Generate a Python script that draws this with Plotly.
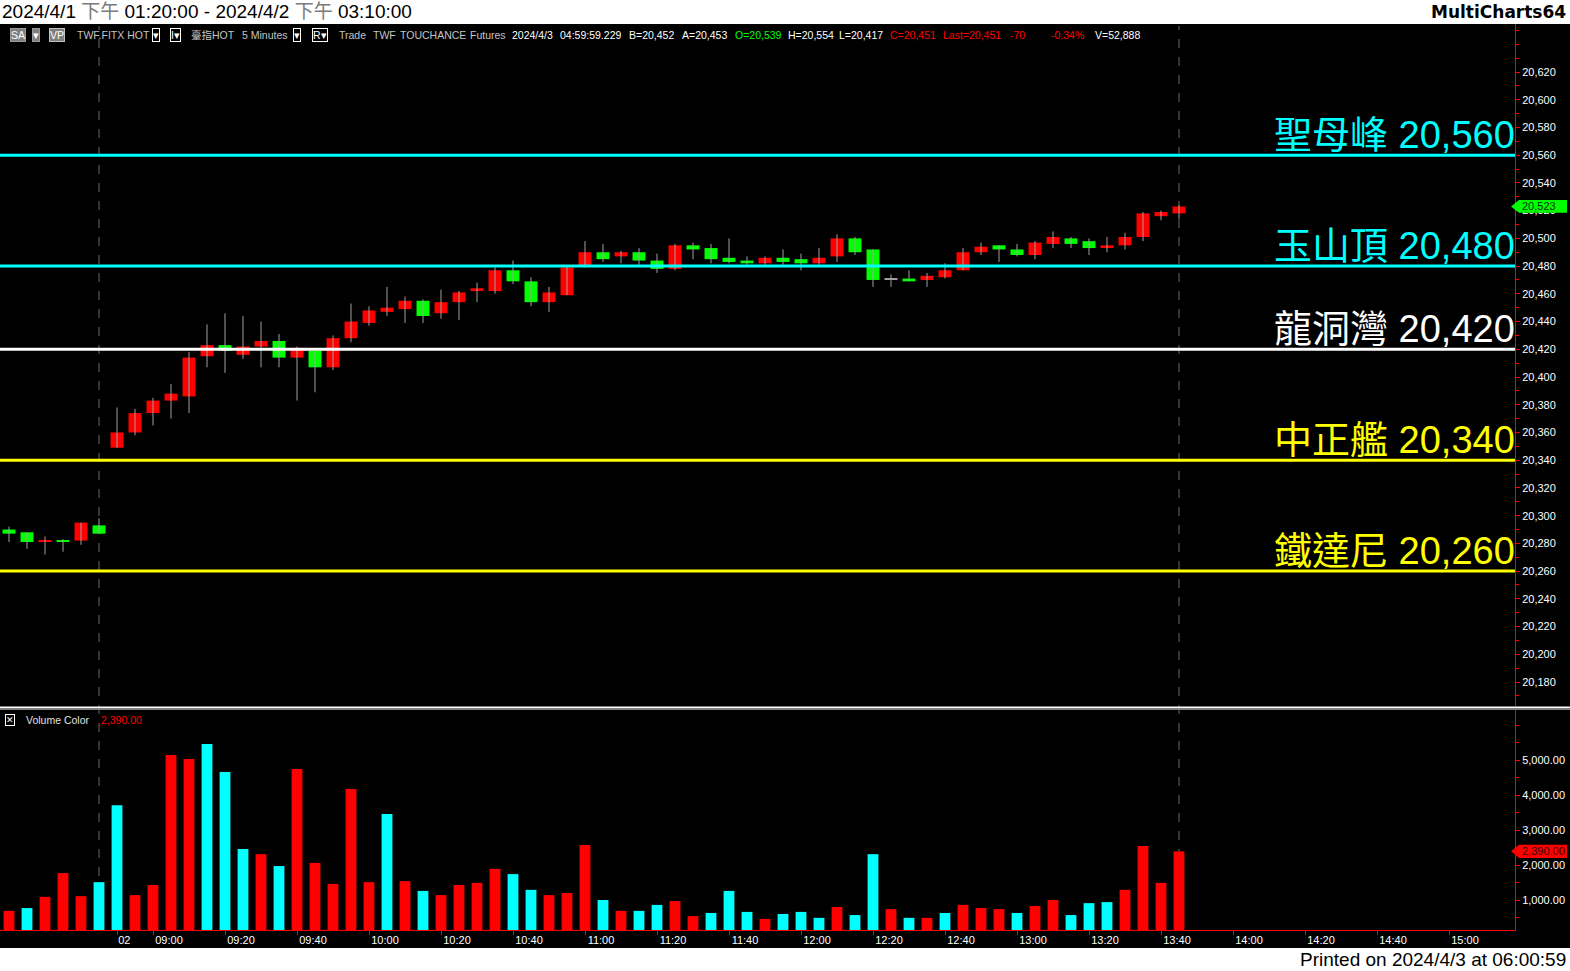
import plotly.graph_objects as go

W, H = 1570, 971

# ---------------- data ----------------
opens = [20290, 20288, 20281, 20282, 20282, 20293,
         20349, 20360, 20374, 20383, 20386, 20415, 20423, 20416, 20422, 20426,
         20414, 20419, 20407, 20428, 20439, 20447, 20449, 20455, 20446, 20454,
         20462, 20462, 20477, 20469, 20454, 20459, 20480, 20490, 20487, 20490,
         20484, 20478, 20495, 20493, 20486, 20484, 20482, 20486, 20485, 20482,
         20487, 20500, 20492, 20470, 20471, 20470, 20472, 20477, 20490, 20495,
         20492, 20488, 20496, 20500, 20498, 20493, 20495, 20501, 20516, 20518]
highs = [20292, 20288, 20285, 20283, 20295, 20298,
         20378, 20377, 20385, 20395, 20418, 20438, 20446, 20444, 20440, 20431,
         20422, 20420, 20430, 20453, 20451, 20465, 20458, 20456, 20463, 20462,
         20468, 20479, 20484, 20472, 20465, 20480, 20498, 20496, 20491, 20493,
         20489, 20496, 20497, 20496, 20500, 20487, 20487, 20492, 20489, 20493,
         20503, 20501, 20492, 20474, 20477, 20475, 20482, 20493, 20497, 20495,
         20496, 20498, 20505, 20501, 20500, 20501, 20504, 20519, 20520, 20524]
lows = [20281, 20276, 20272, 20274, 20279, 20287,
        20349, 20358, 20365, 20370, 20374, 20407, 20403, 20413, 20407, 20407,
        20383, 20389, 20405, 20425, 20437, 20444, 20439, 20439, 20442, 20441,
        20454, 20460, 20467, 20451, 20447, 20459, 20479, 20483, 20482, 20481,
        20475, 20477, 20485, 20482, 20482, 20481, 20481, 20481, 20477, 20481,
        20483, 20488, 20465, 20465, 20469, 20465, 20471, 20477, 20488, 20483,
        20487, 20485, 20493, 20493, 20488, 20490, 20492, 20498, 20513, 20514]
closes = [20287, 20281, 20282, 20281, 20295, 20287,
          20360, 20374, 20383, 20388, 20414, 20423, 20419, 20422, 20426, 20414,
          20421, 20407, 20428, 20440, 20448, 20450, 20455, 20444, 20454, 20461,
          20464, 20477, 20469, 20454, 20461, 20479, 20490, 20485, 20490, 20484,
          20478, 20495, 20492, 20485, 20483, 20482, 20486, 20483, 20482, 20486,
          20500, 20490, 20470, 20470, 20469, 20473, 20477, 20490, 20494, 20492,
          20488, 20497, 20501, 20496, 20493, 20495, 20501, 20518, 20519, 20523]
volumes = [690, 770, 1090, 1770, 1110, 1510, 3710, 1140, 1430, 5140,
           5030, 5460, 4660, 2460, 2310, 1970, 4740, 2060, 1460, 4170,
           1510, 3460, 1540, 1260, 1140, 1430, 1490, 1890, 1740, 1290,
           1140, 1200, 2570, 1000, 690, 690, 860, 970, 540, 630,
           1260, 660, 460, 600, 660, 490, 800, 570, 2310, 740,
           490, 490, 630, 860, 770, 740, 630, 830, 1000, 570,
           910, 940, 1290, 2540, 1490, 2390]
volume_dir = list("RCRRRCCRRR" "RCCCRCRRRR" "RCRCRRRRCC" "RRRCRCCRRC"
                  "CCRCCCRCCR" "CRCRRRCRRC" "CCRRRR")

x_tick_index = [6, 8, 12, 16, 20, 24, 28, 32, 36, 40, 44, 48, 52, 56, 60, 64, 68, 72, 76, 80]
x_tick_text = ["02", "09:00", "09:20", "09:40", "10:00", "10:20", "10:40", "11:00",
               "11:20", "11:40", "12:00", "12:20", "12:40", "13:00", "13:20", "13:40",
               "14:00", "14:20", "14:40", "15:00"]

price_ticks = list(range(20180, 20621, 20))
volume_ticks = [1000, 2000, 3000, 4000, 5000]

level_values = [20560, 20480, 20420, 20340, 20260]
level_names = ["聖母峰", "玉山頂", "龍洞灣", "中正艦", "鐵達尼"]
level_colors = ["#00FFFF", "#00FFFF", "#FFFFFF", "#FFFF00", "#FFFF00"]

last_price = 20523
last_volume = 2390
session_break_index = 5

# ---------------- helpers ----------------
def px(xp):
    return xp / W


def py(yp):
    return 1 - yp / H


X_RIGHT = 1515
x_range = [-0.5, (X_RIGHT - 9) / 18.0]
n = len(opens)
idx = list(range(n))

PRICE_TOP, PRICE_BOT = 24, 706
VOL_TOP, VOL_BOT = 710, 930
price_range = [20620 - (PRICE_BOT - 72) * 0.72129, 20620 + (72 - PRICE_TOP) * 0.72129]
vol_range = [(935 - VOL_BOT) / 0.035, (935 - VOL_TOP) / 0.035]

fig = go.Figure()

# wicks
wx, wy = [], []
for i, (h, l) in enumerate(zip(highs, lows)):
    wx += [i, i, None]
    wy += [l, h, None]
fig.add_trace(go.Scatter(x=wx, y=wy, mode="lines", line=dict(color="#A0A0A0", width=1),
                         xaxis="x", yaxis="y", hoverinfo="skip", showlegend=False))

# bodies
bases = [min(o, c) for o, c in zip(opens, closes)]
heights = [max(abs(c - o), 0.8) for o, c in zip(opens, closes)]
body_colors = ["#FF0000" if c > o else ("#00FF00" if c < o else "#A0A0A0")
               for o, c in zip(opens, closes)]
fig.add_trace(go.Bar(x=idx, y=heights, base=bases, width=0.72,
                     marker=dict(color=body_colors, line=dict(width=0)),
                     xaxis="x", yaxis="y", hoverinfo="skip", showlegend=False))

# volume
vcolors = ["#FF0000" if d == "R" else "#00FFFF" for d in volume_dir]
fig.add_trace(go.Bar(x=idx, y=volumes, width=0.6,
                     marker=dict(color=vcolors, line=dict(width=0)),
                     xaxis="x2", yaxis="y2", hoverinfo="skip", showlegend=False))

shapes = []
annotations = []

# header / footer bands
shapes.append(dict(type="rect", xref="paper", yref="paper", x0=0, x1=1, y0=py(24), y1=1,
                   fillcolor="white", line=dict(width=0), layer="above"))
shapes.append(dict(type="rect", xref="paper", yref="paper", x0=0, x1=1, y0=0, y1=py(948),
                   fillcolor="white", line=dict(width=0), layer="above"))

# pane separator
shapes.append(dict(type="line", xref="paper", yref="paper", x0=0, x1=1, y0=py(707.5), y1=py(707.5),
                   line=dict(color="#FFFFFF", width=2)))
shapes.append(dict(type="line", xref="paper", yref="paper", x0=0, x1=1, y0=py(709.5), y1=py(709.5),
                   line=dict(color="#808080", width=1)))

# vertical dashed lines
for xi in [session_break_index, n - 1]:
    shapes.append(dict(type="line", xref="x", yref="paper", x0=xi, x1=xi, y0=py(VOL_BOT), y1=py(26),
                       line=dict(color="#6A6A6A", width=1, dash="dash"), layer="below"))

# level lines and labels
for v, name, col in zip(level_values, level_names, level_colors):
    shapes.append(dict(type="line", xref="x", yref="y", x0=x_range[0], x1=x_range[1], y0=v, y1=v,
                       line=dict(color=col, width=3)))
    annotations.append(dict(xref="paper", yref="y", x=px(1517), y=v, xanchor="right", yanchor="bottom",
                            text=f"{name} {v:,}", showarrow=False, yshift=-3,
                            font=dict(size=38, color=col,
                                      family="Liberation Sans, Noto Sans CJK TC, sans-serif")))

# last price tag
ph = 4.6
shapes.append(dict(type="path", xref="paper", yref="y",
                   path=f"M {px(1511)} {last_price} L {px(1519)} {last_price + ph} L {px(1567)} {last_price + ph} "
                        f"L {px(1567)} {last_price - ph} L {px(1519)} {last_price - ph} Z",
                   fillcolor="#00FF00", line=dict(width=0), layer="above"))
annotations.append(dict(xref="paper", yref="y", x=px(1520), y=last_price, xanchor="left", yanchor="middle",
                        text=f"{last_price:,}", showarrow=False,
                        font=dict(size=11, color="#003300", family="Liberation Sans")))
vh = 190
shapes.append(dict(type="path", xref="paper", yref="y2",
                   path=f"M {px(1511)} {last_volume} L {px(1519)} {last_volume + vh} L {px(1567)} {last_volume + vh} "
                        f"L {px(1567)} {last_volume - vh} L {px(1519)} {last_volume - vh} Z",
                   fillcolor="#FF0000", line=dict(width=0), layer="above"))
annotations.append(dict(xref="paper", yref="y2", x=px(1520), y=last_volume, xanchor="left", yanchor="middle",
                        text=f"{last_volume:,.2f}", showarrow=False,
                        font=dict(size=11, color="#3A0000", family="Liberation Sans")))

# title bar texts
annotations.append(dict(xref="paper", yref="paper", x=0, y=py(12), xanchor="left", yanchor="middle",
                        text="2024/4/1 <span style='color:#7a7a7a'>下午</span> 01:20:00 - 2024/4/2 "
                             "<span style='color:#7a7a7a'>下午</span> 03:10:00",
                        showarrow=False,
                        font=dict(size=19, color="black",
                                  family="Liberation Sans, Noto Sans CJK TC, sans-serif")))
annotations.append(dict(xref="paper", yref="paper", x=px(1568), y=py(12), xanchor="right", yanchor="middle",
                        text="<b>MultiCharts64</b>", showarrow=False,
                        font=dict(size=17, color="black", family="DejaVu Sans")))
annotations.append(dict(xref="paper", yref="paper", x=px(1568), y=py(959.5), xanchor="right", yanchor="middle",
                        text="Printed on 2024/4/3 at 06:00:59", showarrow=False,
                        font=dict(size=19, color="black", family="Liberation Sans")))

# info bar
INFO_Y = py(35)
info_font = "Liberation Sans, Noto Sans CJK TC, sans-serif"


def info(xp, text, color="#FFFFFF", bg=None, border=None):
    a = dict(xref="paper", yref="paper", x=px(xp), y=INFO_Y, xanchor="left", yanchor="middle",
             text=text, showarrow=False, font=dict(size=10.5, color=color, family=info_font))
    if bg:
        a["bgcolor"] = bg
    if border:
        a["bordercolor"] = border
        a["borderwidth"] = 1
        a["borderpad"] = 0
    annotations.append(a)


info(10, "SA", "#FFFFFF", bg="#7F7F7F", border="#9A9A9A")
info(32, "▾", "#FFFFFF", bg="#7F7F7F", border="#9A9A9A")
info(49, "VP", "#FFFFFF", bg="#7F7F7F", border="#C0C0C0")
info(75, "TWF.FITX HOT", "#C4C4C4")
info(152, "▾", "#FFFFFF", bg="#000000", border="#FFFFFF")
info(170, "I▾", "#FFFFFF", bg="#000000", border="#FFFFFF")
info(189, "臺指HOT", "#C4C4C4")
info(240, "5 Minutes", "#C4C4C4")
info(293, "▾", "#FFFFFF", bg="#000000", border="#FFFFFF")
info(312, "R▾", "#FFFFFF", bg="#000000", border="#FFFFFF")
info(337, "Trade", "#C4C4C4")
info(371, "TWF", "#C4C4C4")
info(398, "TOUCHANCE", "#C4C4C4")
info(468, "Futures", "#C4C4C4")
info(510, "2024/4/3", "#FFFFFF")
info(558, "04:59:59.229", "#FFFFFF")
info(627, "B=20,452", "#FFFFFF")
info(680, "A=20,453", "#FFFFFF")
info(733, "O=20,539", "#00FF00")
info(786, "H=20,554", "#FFFFFF")
info(837, "L=20,417", "#FFFFFF")
info(888, "C=20,451", "#FF0000")
info(941, "Last=20,451", "#FF0000")
info(1008, "-70", "#FF0000")
info(1049, "-0.34%", "#FF0000")
info(1093, "V=52,888", "#FFFFFF")

# volume pane header
annotations.append(dict(xref="paper", yref="paper", x=px(5), y=py(719.5), xanchor="left", yanchor="middle",
                        text="✕", showarrow=False, bordercolor="#FFFFFF", borderwidth=1, borderpad=0,
                        font=dict(size=9, color="#FFFFFF", family="DejaVu Sans")))
annotations.append(dict(xref="paper", yref="paper", x=px(24), y=py(719.5), xanchor="left", yanchor="middle",
                        text="Volume Color", showarrow=False,
                        font=dict(size=10.5, color="#E0E0E0", family="Liberation Sans")))
annotations.append(dict(xref="paper", yref="paper", x=px(99), y=py(719.5), xanchor="left", yanchor="middle",
                        text=f"{last_volume:,.2f}", showarrow=False,
                        font=dict(size=10.5, color="#FF0000", family="Liberation Sans")))

# x tick label positions: labels start just right of their tick
x_label_pos = [i + (1.5 + 2.9 * len(t)) / 18.0 for i, t in zip(x_tick_index, x_tick_text)]

tickfont = dict(size=11, color="#FFFFFF", family="Liberation Sans")
xdom = [0, px(X_RIGHT)]

fig.update_layout(
    width=W, height=H, autosize=False,
    margin=dict(l=0, r=0, t=0, b=0, pad=0),
    paper_bgcolor="black", plot_bgcolor="black",
    showlegend=False, hovermode=False,
    font=dict(family="Liberation Sans, Noto Sans CJK TC, sans-serif"),
    xaxis=dict(domain=xdom, range=x_range, anchor="y", showticklabels=False, showgrid=False,
               zeroline=False, showline=False, ticks=""),
    yaxis=dict(domain=[py(PRICE_BOT), py(PRICE_TOP)], range=price_range, anchor="x", side="right",
               tickmode="array", tickvals=price_ticks, tickformat=",d", ticks="outside", ticklen=4,
               tickcolor="#FF0000", tickwidth=1, showline=True, linecolor="#FF0000", linewidth=1,
               showgrid=False, zeroline=False, tickfont=tickfont,
               minor=dict(dtick=10, tick0=20170, ticks="outside", ticklen=3, tickcolor="#FF0000")),
    xaxis2=dict(domain=xdom, range=x_range, anchor="y2", tickmode="array", tickvals=x_label_pos,
                ticktext=x_tick_text, ticks="", showgrid=False, zeroline=False, showline=True,
                linecolor="#FF0000", linewidth=1, tickfont=tickfont,
                minor=dict(tickmode="array", tickvals=x_tick_index, ticks="outside", ticklen=4,
                           tickcolor="#FF0000", showgrid=False)),
    yaxis2=dict(domain=[py(VOL_BOT), py(VOL_TOP)], range=vol_range, anchor="x2", side="right",
                tickmode="array", tickvals=volume_ticks, tickformat=",.2f", ticks="outside", ticklen=4,
                tickcolor="#FF0000", showline=True, linecolor="#FF0000", linewidth=1,
                showgrid=False, zeroline=False, tickfont=tickfont,
                minor=dict(dtick=500, tick0=0, ticks="outside", ticklen=3, tickcolor="#FF0000")),
    shapes=shapes,
    annotations=annotations,
)

fig.write_html("out.html", config={"displayModeBar": False},
               post_script="document.body.style.margin='0px';document.body.style.padding='0px';"
                           "document.body.style.overflow='hidden';")
